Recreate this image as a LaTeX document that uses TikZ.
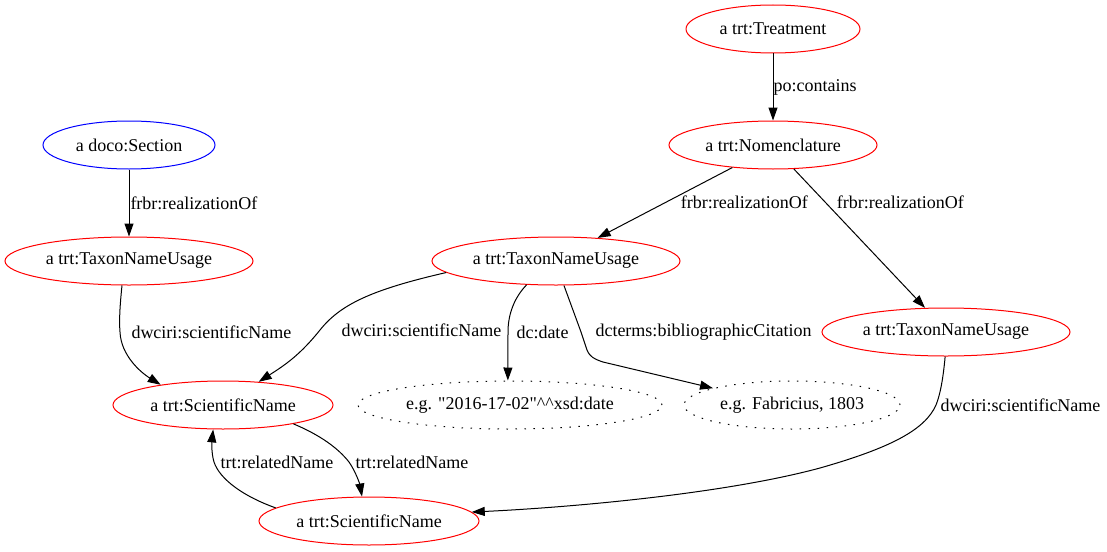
\documentclass[tikz,border=0pt]{standalone}
\usepackage{fontspec}
\setmainfont{Liberation Serif}
\usepackage{xcolor}
\usepackage{tikz}
\usetikzlibrary{arrows.meta,shapes.geometric}
\definecolor{cls}{HTML}{FF0000}
\definecolor{sect}{HTML}{0000FF}
\tikzset{
  res/.style={ellipse, draw=cls, line width=1pt, minimum height=48pt, inner sep=0pt},
  section/.style={res, draw=sect},
  literal/.style={res, draw=black, dash pattern=on 1.5pt off 7.5pt},
  edge/.style={-{Triangle[length=13pt, width=9pt]}, line width=1pt},
  lbl/.style={inner sep=0pt, anchor=west},
}
\newcommand{\gvsize}{\fontsize{18}{21}\selectfont}

\begin{document}
\begin{tikzpicture}[x=1pt, y=1pt, font=\gvsize]
  \useasboundingbox (0,0) rectangle (1107,-551);
  \node[res, minimum width=174pt] (treat) at (773,-29) {a trt:Treatment};
  \node[res, minimum width=208pt] (nomen) at (773,-145) {a trt:Nomenclature};
  \node[section, minimum width=172pt] (sec) at (129,-145) {a doco:Section};
  \node[res, minimum width=248pt] (tnuL) at (129,-261) {a trt:TaxonNameUsage};
  \node[res, minimum width=248pt] (tnuM) at (556,-261) {a trt:TaxonNameUsage};
  \node[res, minimum width=248pt] (tnuR) at (946,-332) {a trt:TaxonNameUsage};
  \node[res, minimum width=220pt] (sn1) at (223,-405) {a trt:ScientificName};
  \node[literal, minimum width=304pt] (date) at (510,-405) {e.g. \textquotedbl2016-17-02\textquotedbl\^{}\^{}xsd:date};
  \node[literal, minimum width=216pt] (fab) at (792,-405) {e.g. Fabricius, 1803};
  \node[res, minimum width=220pt] (sn2) at (369,-521) {a trt:ScientificName};

  \draw[edge] (treat) -- node[lbl, pos=0.5]{po:contains} (nomen);
  \draw[edge] (nomen.209) -- node[lbl, pos=0.49, xshift=14pt]{frbr:realizationOf} (tnuM.29);
  \draw[edge] (nomen.311) -- node[lbl, pos=0.24, xshift=11pt]{frbr:realizationOf} (tnuR.131);
  \draw[edge] (sec) -- node[lbl, pos=0.5, xshift=1pt]{frbr:realizationOf} (tnuL);
  \draw[edge] (tnuL.254) .. controls (120,-305) and (119,-320) .. (120,-332)
    node[lbl, xshift=11pt]{dwciri:scientificName}
    .. controls (121,-355) and (140,-372) .. (sn1.162);
  \draw[edge] (tnuM.186) .. controls (370,-290) and (340,-305) .. (320,-330)
    node[lbl, xshift=21pt]{dwciri:scientificName}
    .. controls (300,-355) and (285,-365) .. (sn1.33);
  \draw[edge] (tnuM.219) .. controls (512,-300) and (508,-318) .. (508,-332)
    node[lbl, xshift=8pt]{dc:date} -- (date.95);
  \draw[edge] (tnuM.288) -- (581,-332) node[lbl, xshift=14pt]{dcterms:bibliographicCitation}
    -- (587,-350) .. controls (590,-357) and (594,-359) .. (603,-362) -- (fab.168);
  \draw[edge] (tnuR.268) .. controls (943,-380) and (940,-395) .. (936,-405)
    node[lbl, xshift=4pt]{dwciri:scientificName}
    .. controls (925,-430) and (890,-448) .. (820,-468)
    .. controls (720,-495) and (560,-508) .. (sn2.5);
  \draw[edge] (sn1.345) .. controls (320,-435) and (338,-448) .. (349,-462)
    node[lbl, xshift=6pt]{trt:relatedName}
    .. controls (356,-472) and (360,-485) .. (sn2.106);
  \draw[edge] (sn2.172) .. controls (245,-497) and (220,-480) .. (214,-462)
    node[lbl, xshift=6pt]{trt:relatedName}
    .. controls (211,-452) and (212,-440) .. (sn1.248);
\end{tikzpicture}
\end{document}
